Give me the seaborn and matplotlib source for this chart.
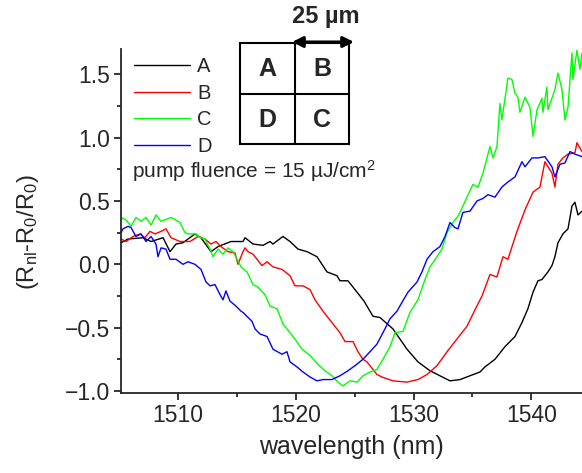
import matplotlib
matplotlib.use("Agg")
import matplotlib.pyplot as plt
from matplotlib.patches import Rectangle
from matplotlib.lines import Line2D
from matplotlib.ticker import MultipleLocator
import pandas as pd
import seaborn as sns

# values (wavelength in nm, signal)
A_wl = [1505.16, 1505.76, 1507.03, 1507.71, 1508.73, 1509.32, 1509.83, 1510.42, 1511.44, 1511.95,
        1512.80, 1513.40, 1514.50, 1515.52, 1515.69, 1516.37, 1517.22, 1517.81, 1518.06, 1518.91,
        1519.51, 1520.19, 1520.95, 1521.80, 1522.65, 1523.50, 1523.75, 1524.43, 1525.03, 1525.79,
        1526.55, 1527.15, 1528.25, 1529.44, 1530.37, 1531.39, 1532.24, 1533.09, 1533.94, 1534.79,
        1535.64, 1536.06, 1536.91, 1537.76, 1538.61, 1539.20, 1539.71, 1540.14, 1540.56, 1540.90,
        1541.41, 1541.75, 1542.00, 1542.26, 1542.68, 1543.11, 1543.45, 1543.70, 1543.96, 1544.30]
A_val = [0.17, 0.20, 0.21, 0.18, 0.21, 0.10, 0.16, 0.17, 0.24, 0.21,
         0.10, 0.14, 0.18, 0.18, 0.21, 0.16, 0.15, 0.18, 0.16, 0.22,
         0.18, 0.12, 0.10, 0.06, -0.06, -0.09, -0.13, -0.13, -0.20, -0.29,
         -0.41, -0.42, -0.51, -0.67, -0.77, -0.84, -0.88, -0.92, -0.91, -0.88,
         -0.85, -0.81, -0.75, -0.65, -0.57, -0.46, -0.35, -0.22, -0.13, -0.12,
         -0.06, -0.01, 0.06, 0.17, 0.24, 0.28, 0.46, 0.49, 0.39, 0.42]

B_wl = [1505.16, 1505.59, 1506.18, 1506.77, 1507.20, 1507.62, 1508.05, 1508.56, 1508.98, 1509.41,
        1510.17, 1511.02, 1511.70, 1512.29, 1512.80, 1513.23, 1513.65, 1514.24, 1514.84, 1515.09,
        1515.52, 1515.69, 1515.94, 1516.37, 1517.13, 1517.56, 1518.06, 1518.83, 1519.51, 1519.93,
        1520.61, 1521.21, 1521.63, 1522.31, 1523.07, 1523.75, 1524.18, 1524.86, 1525.28, 1525.70,
        1526.04, 1526.89, 1527.32, 1528.25, 1529.44, 1530.37, 1531.14, 1531.99, 1532.84, 1533.68,
        1534.53, 1535.21, 1535.81, 1536.49, 1537.08, 1537.59, 1538.01, 1538.78, 1539.46, 1540.14,
        1540.73, 1541.15, 1541.75, 1542.00, 1542.26, 1542.68, 1543.11, 1543.70, 1543.87, 1544.30]
B_val = [0.20, 0.18, 0.22, 0.24, 0.21, 0.26, 0.24, 0.26, 0.28, 0.21,
         0.18, 0.18, 0.22, 0.20, 0.16, 0.18, 0.14, 0.10, 0.09, 0.00,
         0.10, 0.13, 0.10, 0.08, -0.01, 0.02, -0.02, -0.04, -0.09, -0.17,
         -0.17, -0.20, -0.28, -0.37, -0.46, -0.54, -0.61, -0.61, -0.69, -0.75,
         -0.77, -0.87, -0.89, -0.92, -0.93, -0.91, -0.87, -0.80, -0.69, -0.59,
         -0.49, -0.36, -0.25, -0.08, -0.10, 0.06, 0.04, 0.26, 0.43, 0.57,
         0.61, 0.81, 0.72, 0.61, 0.79, 0.84, 0.87, 0.88, 0.96, 0.89]

C_wl = [1505.16, 1505.59, 1506.01, 1506.43, 1506.86, 1507.28, 1507.71, 1508.13, 1508.56, 1509.41,
        1510.17, 1510.59, 1510.85, 1511.53, 1511.87, 1512.29, 1512.72, 1512.97, 1513.40, 1513.82,
        1514.24, 1514.67, 1515.35, 1515.86, 1516.37, 1516.79, 1517.39, 1517.81, 1518.40, 1518.91,
        1519.51, 1519.93, 1520.53, 1521.21, 1521.88, 1522.48, 1523.07, 1523.58, 1524.01, 1524.60,
        1525.20, 1525.70, 1526.30, 1526.89, 1527.40, 1528.00, 1528.42, 1529.10, 1529.69, 1530.37,
        1530.97, 1531.39, 1531.99, 1532.41, 1532.84, 1533.34, 1533.77, 1534.19, 1534.53, 1535.04,
        1535.47, 1535.89, 1536.49, 1536.74, 1537.08, 1537.33, 1537.50, 1538.01, 1538.35, 1538.61,
        1538.86, 1539.03, 1539.46, 1539.88, 1540.14, 1540.48, 1540.90, 1540.98, 1541.32, 1541.41,
        1542.00, 1542.26, 1542.60, 1542.85, 1543.11, 1543.45, 1543.53, 1543.87, 1544.13, 1544.30]
C_val = [0.37, 0.35, 0.30, 0.37, 0.34, 0.37, 0.31, 0.39, 0.34, 0.37,
         0.33, 0.25, 0.24, 0.24, 0.21, 0.20, 0.12, 0.06, 0.12, 0.08,
         0.13, 0.10, -0.02, -0.06, -0.16, -0.18, -0.24, -0.33, -0.35, -0.47,
         -0.54, -0.59, -0.67, -0.72, -0.79, -0.84, -0.88, -0.93, -0.96, -0.92,
         -0.93, -0.88, -0.85, -0.83, -0.75, -0.65, -0.54, -0.53, -0.38, -0.28,
         -0.12, -0.02, 0.06, 0.12, 0.25, 0.33, 0.38, 0.46, 0.53, 0.63,
         0.61, 0.72, 0.93, 0.84, 0.93, 1.27, 1.14, 1.47, 1.46, 1.35,
         1.32, 1.20, 1.32, 1.24, 1.01, 1.22, 1.31, 1.20, 1.40, 1.22,
         1.38, 1.51, 1.38, 1.14, 1.24, 1.67, 1.46, 1.69, 1.54, 1.67]

D_wl = [1505.16, 1505.33, 1505.76, 1506.01, 1506.43, 1506.86, 1507.28, 1507.71, 1508.13, 1508.30,
        1508.56, 1508.98, 1509.32, 1509.83, 1510.42, 1510.85, 1511.44, 1511.95, 1512.38, 1512.72,
        1513.14, 1513.57, 1513.82, 1514.07, 1514.41, 1514.92, 1515.35, 1515.52, 1516.28, 1516.54,
        1516.96, 1517.56, 1518.06, 1518.83, 1519.25, 1519.51, 1520.10, 1520.61, 1521.21, 1521.80,
        1522.31, 1523.07, 1523.75, 1524.43, 1525.03, 1525.70, 1526.30, 1526.89, 1527.40, 1528.00,
        1528.59, 1529.02, 1529.52, 1530.29, 1530.71, 1531.14, 1531.65, 1532.24, 1532.67, 1533.09,
        1533.51, 1533.77, 1534.19, 1534.79, 1535.38, 1535.89, 1536.32, 1536.91, 1537.50, 1538.01,
        1538.61, 1539.20, 1539.46, 1540.05, 1540.56, 1541.15, 1541.75, 1542.00, 1542.43, 1542.85,
        1543.28, 1543.70, 1544.30]
D_val = [0.25, 0.28, 0.30, 0.29, 0.22, 0.24, 0.18, 0.22, 0.16, 0.06,
         0.13, 0.12, 0.04, 0.04, 0.00, 0.02, 0.00, -0.04, -0.14, -0.17,
         -0.16, -0.24, -0.28, -0.21, -0.29, -0.33, -0.37, -0.38, -0.45, -0.51,
         -0.55, -0.57, -0.67, -0.71, -0.69, -0.77, -0.81, -0.85, -0.89, -0.92,
         -0.91, -0.91, -0.88, -0.84, -0.80, -0.75, -0.69, -0.63, -0.54, -0.43,
         -0.37, -0.30, -0.22, -0.14, -0.06, 0.04, 0.10, 0.14, 0.22, 0.33,
         0.29, 0.28, 0.41, 0.42, 0.50, 0.52, 0.55, 0.53, 0.61, 0.65,
         0.69, 0.81, 0.77, 0.84, 0.84, 0.85, 0.77, 0.69, 0.79, 0.80,
         0.89, 0.87, 0.85]

SAMPLES = ["A", "B", "C", "D"]
COLORS = {"A": "#000000", "B": "#ff0000", "C": "#00ff00", "D": "#0000ff"}
GRID_LABELS = [["A", "B"], ["D", "C"]]
SCALE_TEXT = "25 µm"
FLUENCE_TEXT = "pump fluence = 15 µJ/cm$^{\\mathrm{2}}$"

W, H = 582, 473


def px(x, y):
    """reference pixel -> figure fraction"""
    return x / W, 1 - y / H


def build_frame():
    parts = []
    for name, wl, val in [("A", A_wl, A_val), ("B", B_wl, B_val),
                          ("C", C_wl, C_val), ("D", D_wl, D_val)]:
        parts.append(pd.DataFrame({"wavelength": wl, "signal": val, "sample": name}))
    return pd.concat(parts, ignore_index=True)


sns.set_style("ticks")
plt.rcParams["font.family"] = ["Liberation Sans", "DejaVu Sans"]
plt.rcParams["mathtext.fontset"] = "custom"
plt.rcParams["mathtext.rm"] = "Liberation Sans"
plt.rcParams["mathtext.it"] = "Liberation Sans:italic"
plt.rcParams["mathtext.bf"] = "Liberation Sans:bold"

df = build_frame()

fig = plt.figure(figsize=(W / 100, H / 100), dpi=100)
ax = fig.add_axes([121 / W, 1 - 393 / H, (W - 121) / W, (393 - 49) / H])

sns.lineplot(data=df, x="wavelength", y="signal", hue="sample", hue_order=SAMPLES,
             palette=COLORS, estimator=None, sort=False, linewidth=1.0, ax=ax)

ax.set_xlim(1505.16, 1544.3)
ax.set_ylim(-1.016, 1.70)
ax.xaxis.set_major_locator(MultipleLocator(10))
ax.xaxis.set_minor_locator(MultipleLocator(5))
ax.yaxis.set_major_locator(MultipleLocator(0.5))
ax.yaxis.set_minor_locator(MultipleLocator(0.25))
ax.tick_params(which="major", direction="out", length=5, width=1.3, labelsize=16.5, pad=3)
ax.tick_params(which="minor", direction="out", length=3, width=1.3)
for side in ["top", "right"]:
    ax.spines[side].set_visible(False)
for side in ["left", "bottom"]:
    ax.spines[side].set_linewidth(1.3)
ax.set_xlabel("wavelength (nm)", fontsize=18, labelpad=6)
ax.set_ylabel("(R$_{\\mathrm{nl}}$-R$_{\\mathrm{0}}$/R$_{\\mathrm{0}}$)", fontsize=17)
ax.yaxis.set_label_coords(-0.174, 0.468)

ax.legend(frameon=False, fontsize=14.5, handlelength=2.8, handletextpad=0.35,
          labelspacing=0.38, borderpad=0, borderaxespad=0, loc="upper left",
          bbox_to_anchor=px(134, 57), bbox_transform=fig.transFigure)

# sample layout sketch (2x2 squares) with scale arrow
x0, x1, xm = 240, 349, 295
y0, y1, ym = 43, 144, 94
fx0, fy1 = px(x0, y1)
fig.add_artist(Rectangle((fx0, fy1), (x1 - x0) / W, (y1 - y0) / H, transform=fig.transFigure,
                         fill=False, edgecolor="black", linewidth=1.5))
fig.add_artist(Line2D([xm / W, xm / W], [1 - y0 / H, 1 - y1 / H], transform=fig.transFigure,
                      color="black", linewidth=1.5))
fig.add_artist(Line2D([x0 / W, x1 / W], [1 - ym / H, 1 - ym / H], transform=fig.transFigure,
                      color="black", linewidth=1.5))
cx = [(x0 + xm) / 2, (xm + x1) / 2]
cy = [(y0 + ym) / 2 + 1, (ym + y1) / 2 + 1]
for r in range(2):
    for c in range(2):
        fig.text(*px(cx[c], cy[r]), GRID_LABELS[r][c], fontsize=18, fontweight="bold",
                 ha="center", va="center")

ax.annotate("", xy=px(354, 42), xytext=px(292, 42), xycoords="figure fraction",
            textcoords="figure fraction",
            arrowprops=dict(arrowstyle="<|-|>", color="black", lw=2.2, mutation_scale=16,
                            shrinkA=0, shrinkB=0))
fig.text(*px(326, 17), SCALE_TEXT, fontsize=17, fontweight="bold", ha="center", va="center")
fig.text(*px(132, 171), FLUENCE_TEXT, fontsize=15, ha="left", va="center")

fig.savefig("out.png", dpi=100)
